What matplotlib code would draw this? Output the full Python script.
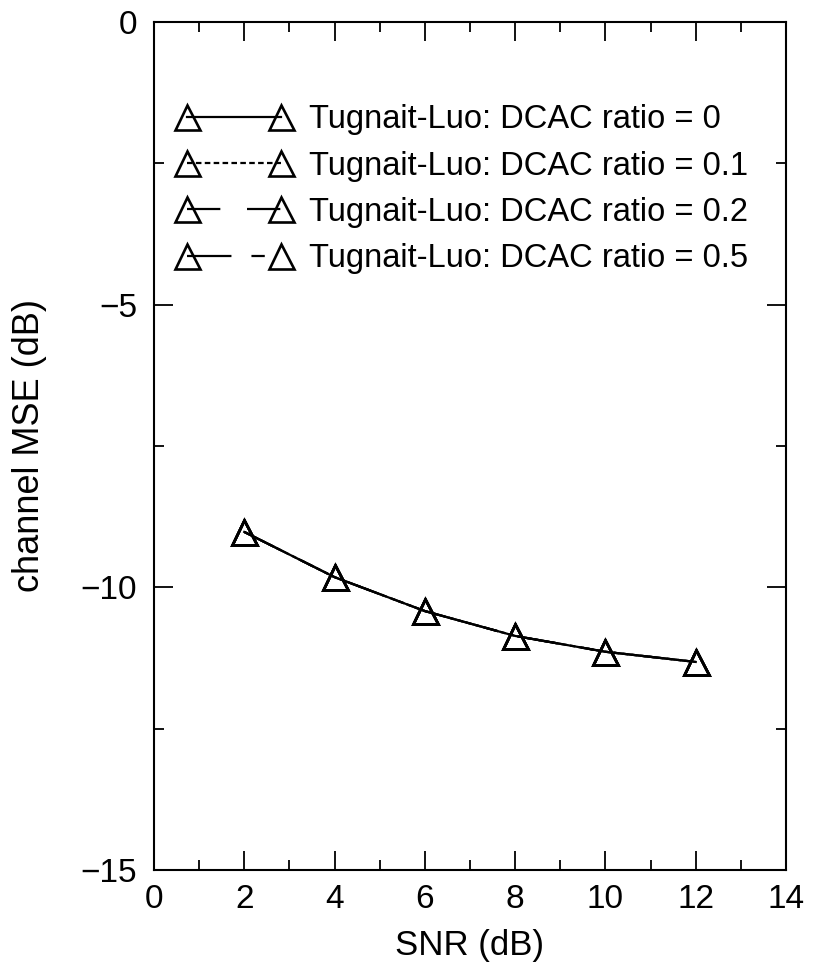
import matplotlib
matplotlib.use("Agg")
import matplotlib.pyplot as plt
from matplotlib.ticker import MultipleLocator

# ---- data ----
snr_db = [2, 4, 6, 8, 10, 12]
mse_ratio_0 = [-9.02, -9.82, -10.42, -10.86, -11.14, -11.32]
mse_ratio_01 = [-9.02, -9.82, -10.42, -10.86, -11.14, -11.32]
mse_ratio_02 = [-9.02, -9.82, -10.42, -10.86, -11.14, -11.32]
mse_ratio_05 = [-9.02, -9.82, -10.42, -10.86, -11.14, -11.32]
labels = ["Tugnait-Luo: DCAC ratio = 0",
          "Tugnait-Luo: DCAC ratio = 0.1",
          "Tugnait-Luo: DCAC ratio = 0.2",
          "Tugnait-Luo: DCAC ratio = 0.5"]

plt.rcParams['font.family'] = ['Liberation Sans', 'DejaVu Sans']

fig = plt.figure(figsize=(8.26, 9.74), dpi=100)
ax = fig.add_axes([0.1864, 0.1068, 0.7652, 0.8706])

style = dict(color='black', marker='^', markersize=18, markerfacecolor='none',
             markeredgewidth=1.9, linewidth=1.6)
ax.plot(snr_db, mse_ratio_0, linestyle='-', label=labels[0], **style)
ax.plot(snr_db, mse_ratio_01, linestyle=(0, (2.5, 1.5)), label=labels[1], **style)
ax.plot(snr_db, mse_ratio_02, linestyle=(0, (15, 12)), label=labels[2], **style)
ax.plot(snr_db, mse_ratio_05, linestyle=(0, (20, 9, 6, 9)), label=labels[3], **style)

ax.set_xlim(0, 14)
ax.set_ylim(-15, 0)
ax.xaxis.set_major_locator(MultipleLocator(2))
ax.xaxis.set_minor_locator(MultipleLocator(1))
ax.yaxis.set_major_locator(MultipleLocator(5))
ax.yaxis.set_minor_locator(MultipleLocator(2.5))
ax.tick_params(which='both', direction='in', top=True, right=True,
               labelsize=24, width=1.3)
ax.tick_params(axis='x', pad=10)
ax.tick_params(axis='y', pad=12)
ax.tick_params(which='major', length=14)
ax.tick_params(which='minor', length=7)
for s in ax.spines.values():
    s.set_linewidth(1.5)

ax.set_xlabel('SNR (dB)', fontsize=25, labelpad=10)
ax.set_ylabel('channel MSE (dB)', fontsize=26, labelpad=24)

ax.legend(loc='upper left', frameon=False, fontsize=23.5, numpoints=2,
          handlelength=3.5, handletextpad=0.55, labelspacing=0.47,
          borderaxespad=0.3, bbox_to_anchor=(0.0, 0.93))

fig.savefig('out.png', dpi=100)
